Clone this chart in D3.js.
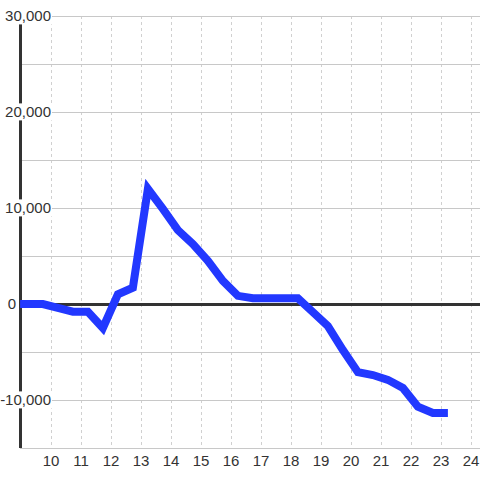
<!DOCTYPE html>
<html>
<head>
<meta charset="utf-8">
<script src="https://cdn.jsdelivr.net/npm/d3@7"></script>
<style>
  body { margin: 0; background: #fff; }
  text { font-family: "Liberation Sans", Arial, sans-serif; fill: #333; }
</style>
</head>
<body>
<div id="chart"></div>
<script>
// Data points (hour of day, value)
const times = [8.97, 9.73, 10.23, 10.73, 11.23, 11.73, 12.23, 12.73, 13.23, 13.73,
    14.23, 14.73, 15.23, 15.73, 16.23, 16.73, 17.23, 17.73, 18.23, 18.73,
    19.23, 19.73, 20.23, 20.73, 21.23, 21.73, 22.23, 22.73, 23.23];
const values = [0, 0, -400, -800, -800, -2500, 1000, 1700, 12000, 9900,
    7700, 6250, 4500, 2400, 850, 600, 600, 600, 600, -850,
    -2300, -4800, -7100, -7400, -7900, -8750, -10700, -11350, -11350];
const xTicks = [10, 11, 12, 13, 14, 15, 16, 17, 18, 19, 20, 21, 22, 23, 24];
const yTicks = [30000, 20000, 10000, 0, -10000];
const yGrid = [30000, 25000, 20000, 15000, 10000, 5000, -5000, -10000, -15000];

const data = times.map((t, i) => ({ t, v: values[i] }));

// Chart dimensions
const W = 480, H = 480;
const plotLeft = 20, plotRight = 480, plotTop = 16, plotBottom = 448;

const svg = d3.select("#chart")
    .append("svg")
    .attr("width", W)
    .attr("height", H);

// Scales
const x = d3.scaleLinear().domain([8.967, 24.3]).range([plotLeft, plotRight]);
const y = d3.scaleLinear().domain([-15000, 30000]).range([plotBottom, plotTop]);

// Vertical dashed grid
svg.append("g")
    .selectAll("line")
    .data(xTicks)
    .enter()
    .append("line")
    .attr("x1", d => x(d) + 0.5).attr("x2", d => x(d) + 0.5)
    .attr("y1", plotTop).attr("y2", plotBottom)
    .attr("stroke", "#d0d0d0")
    .attr("stroke-dasharray", "3,3");

// Horizontal grid
svg.append("g")
    .selectAll("line")
    .data(yGrid)
    .enter()
    .append("line")
    .attr("x1", plotLeft).attr("x2", plotRight)
    .attr("y1", d => y(d) + 0.5).attr("y2", d => y(d) + 0.5)
    .attr("stroke", "#c8c8c8");

// Zero line
svg.append("line")
    .attr("x1", plotLeft).attr("x2", plotRight)
    .attr("y1", y(0) + 0.5).attr("y2", y(0) + 0.5)
    .attr("stroke", "#333")
    .attr("stroke-width", 3);

// Y axis line
svg.append("line")
    .attr("x1", plotLeft + 0.5).attr("x2", plotLeft + 0.5)
    .attr("y1", y(29200)).attr("y2", plotBottom)
    .attr("stroke", "#333")
    .attr("stroke-width", 3);

// Y tick labels with white backing
const fmt = d3.format(",");
const yl = svg.append("g")
    .selectAll("g")
    .data(yTicks)
    .enter()
    .append("g")
    .attr("transform", d => `translate(${d === 0 ? 16 : 51},${y(d)})`);
yl.append("text")
    .attr("text-anchor", "end")
    .attr("dy", "0.36em")
    .style("font-size", "15px")
    .text(d => d < 0 ? "-" + fmt(-d) : fmt(d));
yl.each(function (d) {
    if (d === 0) return;
    const g = d3.select(this);
    const bb = g.select("text").node().getBBox();
    g.insert("rect", "text")
        .attr("x", bb.x - 1).attr("y", bb.y)
        .attr("width", bb.width + 2).attr("height", bb.height)
        .attr("fill", "#fff");
});

// X tick labels
svg.append("g")
    .selectAll("text")
    .data(xTicks)
    .enter()
    .append("text")
    .attr("x", d => x(d))
    .attr("y", 466)
    .attr("text-anchor", "middle")
    .style("font-size", "15px")
    .text(d => d);

// Data line
const line = d3.line()
    .x(d => x(d.t))
    .y(d => y(d.v));

svg.append("path")
    .datum(data)
    .attr("d", line)
    .attr("fill", "none")
    .attr("stroke", "#2238ff")
    .attr("stroke-width", 8)
    .attr("stroke-linejoin", "miter");
</script>
</body>
</html>
